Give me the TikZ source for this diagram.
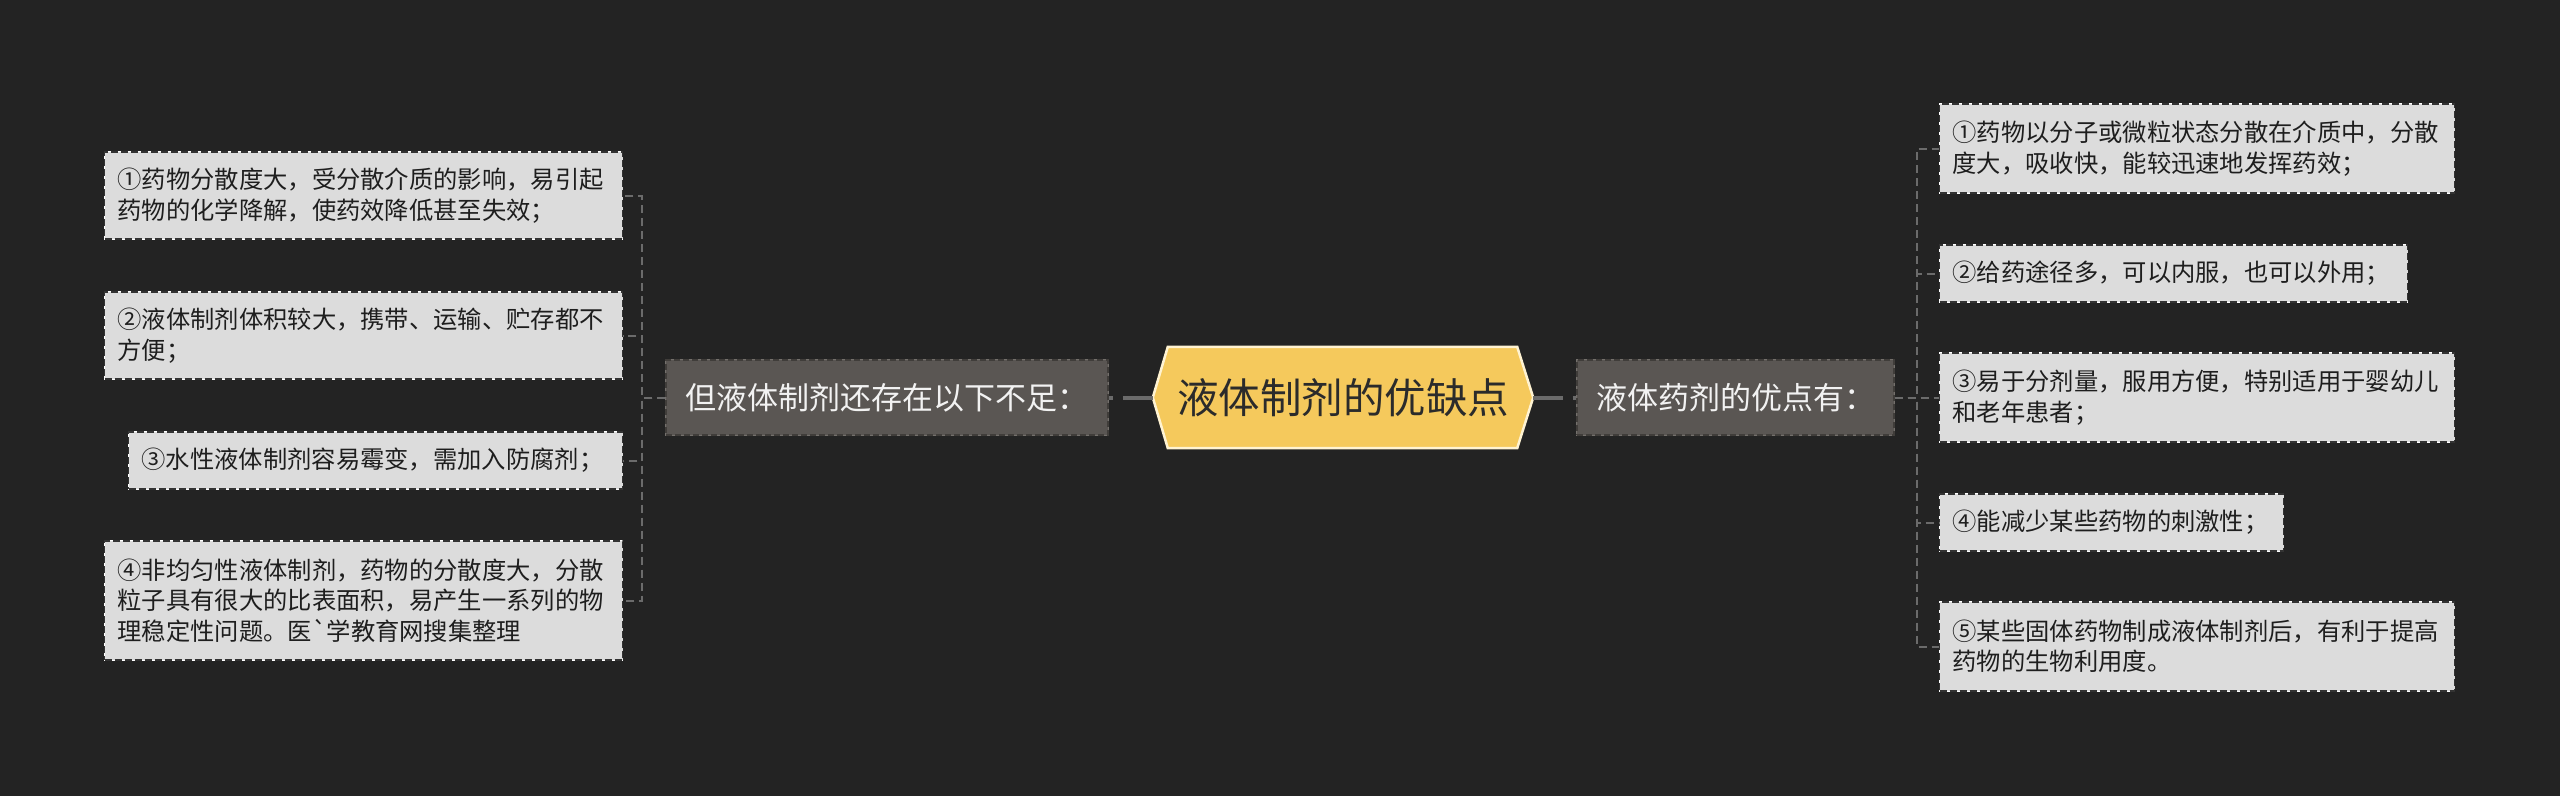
\documentclass[tikz,border=0pt]{standalone}
\usepackage{fontspec}
\setmainfont{Noto Sans CJK SC}
\pgfdeclarelayer{back}
\pgfdeclarelayer{mid}
\pgfsetlayers{back,mid,main}
\newcommand{\gravechar}{\XeTeXglyph\XeTeXcharglyph"60\relax}
\definecolor{bgcol}{HTML}{232323}
\definecolor{leaffill}{HTML}{DCDCDC}
\definecolor{leafline}{HTML}{333333}
\definecolor{leaftext}{HTML}{1E1E1E}
\definecolor{branchfill}{HTML}{5A5653}
\definecolor{branchline}{HTML}{403D3A}
\definecolor{branchlight}{HTML}{74706C}
\definecolor{branchtext}{HTML}{F2F2F2}
\definecolor{rootfill}{HTML}{F5C95C}
\definecolor{rootline}{HTML}{FFF3D2}
\definecolor{roottext}{HTML}{2B2B2B}
\definecolor{conn}{HTML}{6B6B6B}
\tikzset{
  leaf/.style={fill=leaffill, draw=leafline, line width=1.3pt,
    dash pattern=on 7pt off 3pt,
    preaction={draw=white, solid, line width=1.3pt},
    text=leaftext, font=\fontsize{24.3}{30.4}\selectfont,
    align=left, inner xsep=13pt, inner ysep=0pt, anchor=west},
  branch/.style={fill=branchfill, draw=branchline, line width=1.3pt,
    dash pattern=on 6pt off 3pt,
    preaction={draw=branchlight, solid, line width=1.3pt},
    text=branchtext, font=\fontsize{31}{31}\selectfont,
    inner sep=0pt},
  rootnode/.style={text=roottext, font=\fontsize{41.5}{41.5}\selectfont,
    inner sep=0pt, minimum width=380pt, minimum height=101pt},
  rootshape/.style={fill=rootfill, draw=rootline, line width=2.5pt, line join=miter},
  mainconn/.style={draw=conn, line width=4pt, dash pattern=on 30pt off 10pt},
  leafconn/.style={draw=conn, line width=2pt, dash pattern=on 8pt off 5pt},
}
\begin{document}
\begin{tikzpicture}[x=1pt,y=-1pt]
\begin{pgfonlayer}{back}
\fill[bgcol] (0,0) rectangle (2560,796);
\end{pgfonlayer}
\useasboundingbox (0,0) rectangle (2560,796);

% root
\node[rootnode] (root) at (1343,397.5) {液体制剂的优缺点};
\begin{pgfonlayer}{mid}
\path[rootshape] (root.west) -- ([xshift=15pt]root.north west) -- ([xshift=-16pt]root.north east) -- (root.east) -- ([xshift=-16pt]root.south east) -- ([xshift=15pt]root.south west) -- cycle;
\end{pgfonlayer}

% branches
\node[branch, minimum width=442pt, minimum height=75pt] (lb) at (887,397.5) {但液体制剂还存在以下不足：};
\node[branch, minimum width=317pt, minimum height=75pt] (rb) at (1735.5,397.5) {液体药剂的优点有：};

% left leaves
\node[leaf, text width=492pt, minimum height=87pt] (L1) at (104,195.5) {①药物分散度大，受分散介质的影响，易引起\\药物的化学降解，使药效降低甚至失效；};
\node[leaf, text width=492pt, minimum height=87pt] (L2) at (104,335.5) {②液体制剂体积较大，携带、运输、贮存都不\\方便；};
\node[leaf, text width=468pt, minimum height=57pt] (L3) at (128,460.5) {③水性液体制剂容易霉变，需加入防腐剂；};
\node[leaf, text width=492pt, minimum height=119pt] (L4) at (104,600.5) {④非均匀性液体制剂，药物的分散度大，分散\\粒子具有很大的比表面积，易产生一系列的物\\理稳定性问题。医\gravechar 学教育网搜集整理};

% right leaves
\node[leaf, text width=489pt, minimum height=89pt] (R1) at (1939,148.5) {①药物以分子或微粒状态分散在介质中，分散\\度大，吸收快，能较迅速地发挥药效；};
\node[leaf, text width=442pt, minimum height=57pt] (R2) at (1939,273.5) {②给药途径多，可以内服，也可以外用；};
\node[leaf, text width=489pt, minimum height=89pt] (R3) at (1939,397.5) {③易于分剂量，服用方便，特别适用于婴幼儿\\和老年患者；};
\node[leaf, text width=318pt, minimum height=57pt] (R4) at (1939,522.5) {④能减少某些药物的刺激性；};
\node[leaf, text width=489pt, minimum height=89pt] (R5) at (1939,646.5) {⑤某些固体药物制成液体制剂后，有利于提高\\药物的生物利用度。};

% main connectors
\draw[mainconn] (root.west) -- (lb.east);
\draw[mainconn] (root.east) -- (rb.west);

% junctions
\coordinate (lj) at ([xshift=-23pt]lb.west);
\coordinate (rj) at ([xshift=22pt]rb.east);

\foreach \n in {L1,L2,L3,L4} {
  \draw[leafconn] (lb.west) -- (lj) |- (\n.east);
}
\foreach \n in {R1,R2,R3,R4,R5} {
  \draw[leafconn] (rb.east) -- (rj) |- (\n.west);
}
\end{tikzpicture}
\end{document}
